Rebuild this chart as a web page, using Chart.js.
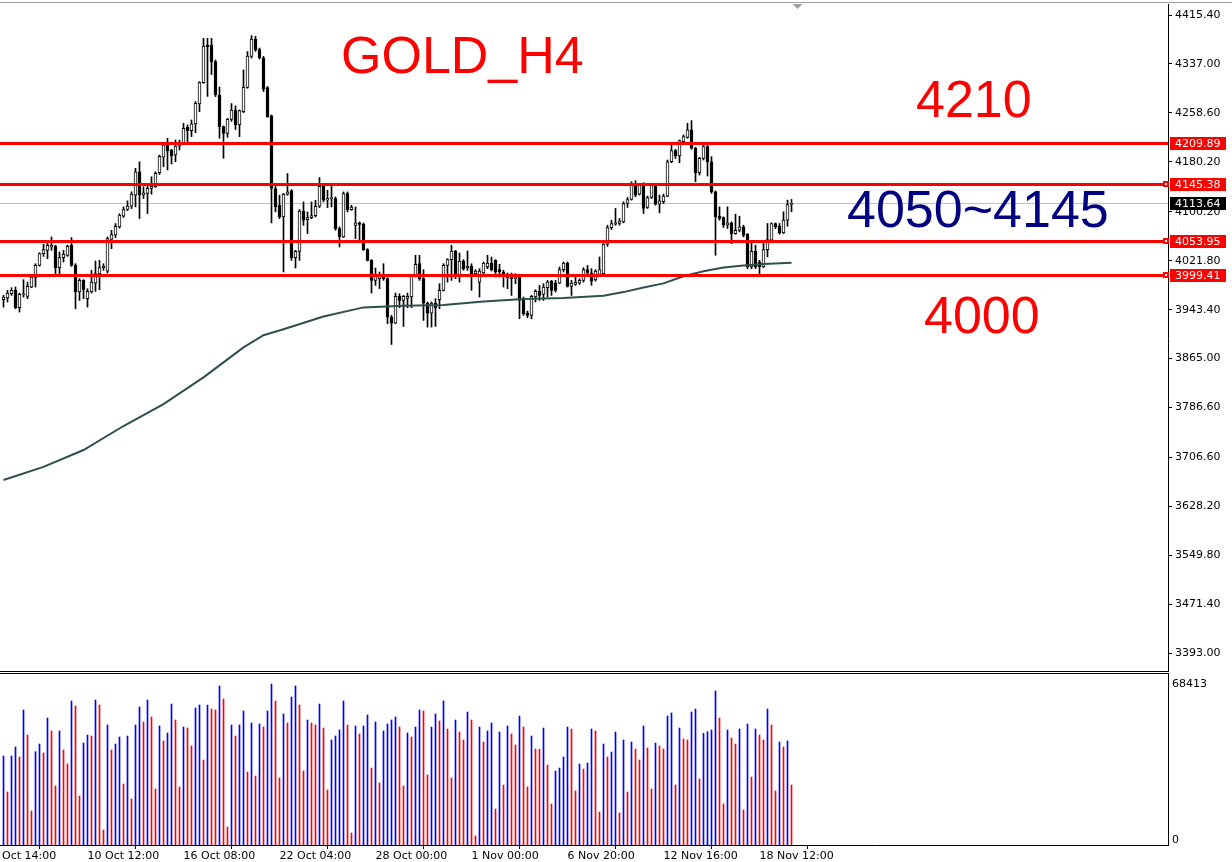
<!DOCTYPE html>
<html>
<head>
<meta charset="utf-8">
<script src="https://cdn.jsdelivr.net/npm/chart.js@4.4.1/dist/chart.umd.min.js"></script>
<style>
  html, body { margin: 0; padding: 0; background: #fff; }
  #wrap { position: relative; width: 1232px; height: 862px; overflow: hidden; background: #fff; }
  #priceChart { position: absolute; left: 0; top: 0; }
  #volChart { position: absolute; left: 0; top: 672px; }
</style>
</head>
<body>
<div id="wrap">
  <canvas id="priceChart" width="1232" height="672"></canvas>
  <canvas id="volChart" width="1232" height="190"></canvas>
</div>
<script>
// ---- values (one entry per bar) ----
const opens = [3959.3, 3962.0, 3968.9, 3974.3, 3946.5, 3967.3, 3964.6, 3979.6, 3994.6, 4014.4,
  4033.1, 4038.4, 4043.8, 4044.9, 4010.6, 4026.7, 4030.4, 4046.5, 4014.4, 3971.6,
  3990.3, 3960.9, 3971.6, 3986.0, 4001.0, 4010.6, 4005.0, 4056.0, 4062.6, 4076.0,
  4093.1, 4103.8, 4109.2, 4126.9, 4164.3, 4126.9, 4129.5, 4137.6, 4140.2, 4163.0,
  4187.5, 4207.2, 4199.2, 4191.2, 4205.6, 4209.9, 4235.5, 4230.2, 4240.9, 4272.9,
  4307.1, 4367.4, 4367.4, 4340.7, 4287.3, 4236.6, 4225.9, 4248.3, 4263.3, 4239.3,
  4260.6, 4299.6, 4349.2, 4377.0, 4359.9, 4346.5, 4299.3, 4253.8, 4137.4, 4110.6,
  4091.9, 4128.3, 4133.6, 4026.7, 4036.8, 4101.5, 4087.6, 4090.8, 4094.0, 4109.0,
  4141.1, 4118.6, 4121.3, 4121.3, 4073.2, 4059.8, 4129.3, 4103.7, 4078.5, 4082.3,
  4080.1, 4039.5, 4022.4, 3990.3, 3993.0, 3996.7, 3993.0, 3931.5, 3921.9, 3964.6,
  3958.2, 3961.5, 3963.6, 3996.7, 4017.0, 3993.0, 3953.9, 3937.9, 3953.9, 3959.3,
  3974.3, 4014.4, 4023.5, 4037.4, 3995.7, 4021.3, 4010.6, 4012.8, 4001.0, 3987.6,
  4002.1, 4011.7, 4018.1, 4022.4, 4007.4, 4003.7, 3996.7, 3994.6, 3993.0, 3995.7,
  3958.2, 3937.9, 3934.2, 3963.6, 3972.7, 3967.9, 3978.5, 3989.2, 3986.0, 3986.0,
  4007.4, 4018.1, 3980.7, 3983.9, 3986.0, 3990.3, 4007.4, 4002.1, 3991.0, 4000.0,
  4001.0, 4048.2, 4074.9, 4080.3, 4081.4, 4084.0, 4113.5, 4119.9, 4144.6, 4128.5,
  4144.6, 4107.1, 4123.1, 4143.0, 4112.4, 4116.2, 4125.3, 4180.4, 4198.1, 4189.6,
  4212.6, 4219.5, 4231.3, 4201.9, 4162.8, 4185.8, 4204.5, 4180.4, 4132.2, 4093.1,
  4091.0, 4078.7, 4082.4, 4065.3, 4070.6, 4076.0, 4064.2, 4011.7, 4036.9, 4019.8,
  4011.7, 4039.6, 4054.6, 4081.4, 4077.1, 4066.4, 4086.7, 4111.9];

const highs = [3966.2, 3974.3, 3978.5, 3979.6, 3970.0, 3991.4, 3987.6, 4000.0, 4017.0, 4034.5,
  4048.1, 4051.8, 4059.8, 4046.5, 4035.8, 4038.4, 4046.5, 4058.8, 4017.0, 3993.0,
  3991.4, 3976.9, 4006.4, 4021.3, 4022.4, 4017.0, 4059.8, 4070.5, 4081.3, 4097.0,
  4108.1, 4117.7, 4132.2, 4169.7, 4180.4, 4140.2, 4142.9, 4156.3, 4164.3, 4191.0,
  4208.8, 4217.9, 4200.3, 4215.2, 4215.2, 4241.9, 4239.3, 4247.3, 4276.7, 4308.7,
  4378.1, 4378.1, 4378.1, 4343.4, 4300.0, 4237.7, 4249.9, 4273.5, 4269.7, 4263.3,
  4327.4, 4356.8, 4382.4, 4381.3, 4362.5, 4349.2, 4300.9, 4255.4, 4144.0, 4126.7,
  4129.3, 4161.4, 4135.8, 4038.4, 4103.7, 4116.0, 4099.9, 4116.0, 4118.6, 4155.0,
  4145.4, 4134.7, 4142.7, 4124.0, 4075.9, 4132.0, 4132.0, 4110.6, 4107.9, 4083.9,
  4082.3, 4041.1, 4023.5, 4010.1, 4003.7, 4017.0, 3994.6, 3934.2, 3970.0, 3968.9,
  3966.2, 3970.0, 3998.3, 4030.4, 4030.4, 4007.4, 3955.6, 3955.6, 3960.9, 3985.0,
  4017.0, 4025.1, 4046.5, 4038.4, 4034.2, 4023.5, 4037.4, 4017.0, 4007.4, 4009.0,
  4019.7, 4030.4, 4027.7, 4023.5, 4016.0, 4006.4, 4002.1, 4002.1, 4001.0, 3996.7,
  3963.6, 3941.1, 3966.2, 3975.3, 3982.3, 3985.0, 3990.3, 3990.3, 3990.3, 4011.7,
  4019.7, 4019.7, 3990.3, 3998.3, 3993.0, 4010.6, 4014.4, 4009.0, 4007.4, 4027.8,
  4049.2, 4078.7, 4086.7, 4105.5, 4089.4, 4116.2, 4123.1, 4148.3, 4149.9, 4145.6,
  4146.7, 4125.3, 4144.6, 4145.6, 4126.9, 4128.5, 4183.1, 4207.2, 4200.3, 4215.3,
  4223.3, 4242.0, 4246.3, 4203.5, 4187.4, 4207.2, 4207.2, 4188.5, 4133.8, 4108.1,
  4092.1, 4108.1, 4084.0, 4096.4, 4093.1, 4078.7, 4065.3, 4051.9, 4046.5, 4022.4,
  4051.9, 4081.4, 4082.4, 4082.4, 4081.4, 4100.1, 4118.8, 4119.9];

const lows = [3947.5, 3955.6, 3966.2, 3944.9, 3939.5, 3963.6, 3960.9, 3978.5, 3979.6, 4013.0,
  4028.8, 4025.1, 4038.4, 4001.0, 4001.0, 4019.7, 4028.8, 4012.8, 3944.9, 3958.2,
  3960.9, 3947.5, 3970.0, 3972.7, 3975.3, 4006.4, 4002.1, 4041.1, 4058.8, 4074.0,
  4091.0, 4102.0, 4105.4, 4108.1, 4089.4, 4121.5, 4097.4, 4128.4, 4139.2, 4160.0,
  4172.5, 4167.2, 4176.8, 4180.5, 4199.2, 4208.8, 4208.8, 4220.6, 4227.0, 4260.6,
  4306.0, 4285.0, 4320.0, 4284.7, 4218.0, 4185.9, 4219.5, 4245.0, 4232.0, 4220.6,
  4259.0, 4298.0, 4346.5, 4357.2, 4344.9, 4292.9, 4251.7, 4082.4, 4100.0, 4089.2,
  4003.7, 4126.7, 4022.4, 4010.1, 4022.4, 4078.5, 4065.2, 4089.2, 4091.9, 4106.9,
  4116.0, 4106.9, 4108.0, 4070.5, 4043.8, 4059.0, 4099.9, 4102.6, 4057.1, 4054.5,
  4038.4, 4021.3, 3970.0, 3982.3, 3977.0, 3990.3, 3920.8, 3887.6, 3920.8, 3946.5,
  3916.5, 3946.5, 3946.5, 3995.7, 3990.3, 3926.1, 3915.4, 3915.4, 3916.5, 3944.9,
  3973.2, 3987.6, 3990.3, 3993.0, 3987.6, 4006.4, 4006.4, 3974.3, 3998.3, 3963.6,
  4001.0, 4009.0, 4005.3, 3995.7, 3995.7, 3979.6, 3977.0, 3966.2, 3985.0, 3928.8,
  3934.2, 3930.4, 3928.8, 3955.6, 3958.2, 3958.2, 3963.6, 3966.2, 3971.6, 3985.0,
  4003.7, 3979.6, 3966.2, 3982.3, 3983.9, 3987.6, 3996.7, 3982.3, 3989.0, 3998.4,
  4000.0, 4044.9, 4071.7, 4078.7, 4078.7, 4082.4, 4107.1, 4118.8, 4124.2, 4126.9,
  4097.4, 4105.5, 4121.5, 4110.8, 4098.5, 4113.5, 4124.2, 4178.8, 4185.8, 4178.8,
  4209.9, 4217.9, 4200.3, 4148.3, 4159.0, 4183.1, 4157.4, 4129.6, 4030.5, 4086.7,
  4075.0, 4073.3, 4049.2, 4064.2, 4068.0, 4059.9, 4009.0, 4009.0, 4009.0, 4001.0,
  4010.6, 4027.8, 4051.9, 4073.3, 4064.2, 4065.3, 4077.1, 4100.1];

const closes = [3963.6, 3970.0, 3974.3, 3946.5, 3967.9, 3967.9, 3980.7, 3995.7, 4014.4, 4033.1,
  4039.5, 4046.5, 4046.5, 4010.6, 4026.7, 4032.0, 4044.9, 4014.4, 3971.6, 3990.3,
  3975.3, 3972.7, 3987.6, 4001.0, 4010.6, 4012.8, 4057.1, 4063.5, 4077.0, 4094.7,
  4103.8, 4109.2, 4128.4, 4164.3, 4126.9, 4130.6, 4137.6, 4141.3, 4161.7, 4189.0,
  4207.2, 4198.2, 4189.6, 4205.6, 4209.9, 4233.9, 4230.2, 4240.9, 4274.0, 4307.1,
  4365.8, 4364.8, 4340.7, 4287.3, 4236.6, 4225.9, 4248.3, 4263.3, 4239.3, 4262.2,
  4299.6, 4349.8, 4377.0, 4359.9, 4346.5, 4296.7, 4252.7, 4137.6, 4107.9, 4091.9,
  4128.3, 4132.0, 4026.7, 4036.8, 4101.5, 4086.6, 4090.8, 4094.0, 4109.0, 4141.1,
  4118.6, 4121.3, 4121.5, 4073.2, 4059.8, 4129.3, 4103.7, 4107.9, 4082.3, 4080.1,
  4039.5, 4022.4, 3990.3, 3996.7, 3996.7, 3993.0, 3931.5, 3921.9, 3964.7, 3958.2,
  3964.6, 3964.6, 3996.7, 4016.0, 3993.0, 3953.9, 3937.9, 3953.9, 3946.5, 3974.3,
  4014.4, 4023.5, 4037.4, 3995.7, 4021.3, 4009.0, 4012.8, 4001.0, 4005.3, 4005.3,
  4018.1, 4018.1, 4007.4, 4003.7, 4003.7, 3998.3, 3994.6, 3993.0, 3994.6, 3958.2,
  3936.8, 3934.2, 3964.6, 3972.7, 3966.2, 3979.6, 3987.6, 3974.3, 3974.3, 4007.4,
  4018.1, 3980.7, 3986.0, 3987.6, 3990.3, 4007.4, 4002.1, 3989.2, 4005.3, 4007.4,
  4048.2, 4074.9, 4081.4, 4082.4, 4085.6, 4113.5, 4119.9, 4144.6, 4126.9, 4143.0,
  4105.5, 4123.1, 4143.0, 4112.4, 4117.8, 4125.3, 4180.4, 4198.1, 4189.6, 4214.2,
  4220.6, 4231.3, 4201.9, 4162.8, 4185.8, 4204.5, 4180.4, 4132.2, 4092.1, 4089.4,
  4078.7, 4082.4, 4065.3, 4070.6, 4076.0, 4062.6, 4011.7, 4036.9, 4011.7, 4011.7,
  4039.6, 4055.6, 4081.4, 4076.0, 4066.4, 4086.7, 4111.9, 4113.64];

const volumes = [37826, 22525, 37850, 41651, 37401, 57376, 46751, 14450, 39668, 42926,
  39101, 53976, 48451, 25076, 48460, 40376, 34426, 61201, 59076, 20825,
  43351, 46751, 46326, 61626, 59501, 6375, 51001, 40376, 42926, 45901,
  25926, 46326, 19550, 51001, 58651, 52276, 61626, 54401, 23800, 50576,
  44201, 47601, 59926, 53126, 24650, 50151, 49726, 42076, 58226, 59501,
  36126, 59480, 57801, 57376, 67576, 62051, 7650, 51001, 46326, 51010,
  56951, 31026, 51851, 29326, 51426, 50151, 56951, 68413, 61201, 28476,
  55676, 51851, 62901, 67576, 59501, 31451, 53126, 51851, 51001, 59926,
  49726, 23375, 44626, 46326, 48876, 61201, 51001, 5100, 50576, 47176,
  50590, 55251, 32726, 52276, 26351, 48451, 51426, 53126, 54401, 50151,
  25076, 47601, 45901, 50151, 57376, 56951, 29751, 50151, 55676, 52701,
  61201, 49301, 28476, 53126, 48026, 44626, 56526, 53126, 3825, 50151,
  43776, 48451, 51851, 15300, 48026, 25500, 50576, 47176, 42501, 54826,
  50151, 24650, 46326, 40801, 40659, 49726, 34001, 17425, 31451, 32726,
  37401, 50151, 49301, 22950, 34426, 32301, 34851, 49301, 48451, 14025,
  42926, 37401, 39526, 48026, 13600, 44626, 22525, 43776, 40801, 36126,
  50576, 41226, 23800, 43351, 42076, 40801, 54826, 56101, 25500, 49726,
  45051, 44626, 56526, 57801, 28051, 47459, 48168, 48876, 65451, 53976,
  17425, 48876, 45476, 42926, 49301, 14875, 51426, 28901, 49301, 46751,
  44626, 57801, 51001, 22950, 43776, 41651, 44201, 25500];

// moving average, read at a few bars
const maIndex = [0, 10, 20, 30, 40, 50, 55, 60, 65, 70, 80, 90, 100, 110, 120, 130, 140, 150, 155, 160, 165, 170, 175, 180, 185, 190, 197];
const maValues = [3670.5, 3691.5, 3718.5, 3757.0, 3792.0, 3835.0, 3859.0, 3883.0, 3902.5, 3912.0, 3932.5, 3947.0, 3949.5, 3951.0, 3956.5, 3960.5, 3962.0, 3965.5, 3971.5, 3979.0, 3985.5, 3997.0, 4005.0, 4011.0, 4014.0, 4016.5, 4018.5];

const priceTicks = [3393.00, 3471.40, 3549.80, 3628.20, 3706.60, 3786.60, 3865.00, 3943.40, 4021.80, 4100.20, 4180.20, 4258.60, 4337.00, 4415.40];
const levelPrices = [4209.89, 4145.38, 4053.95, 3999.41];
const levelMarked = [false, true, true, true];
const xTickIndex = [-3, 21, 45, 69, 93, 117, 141, 165, 189];
const xTickLabels = ["6 Oct 14:00", "10 Oct 12:00", "16 Oct 08:00", "22 Oct 04:00", "28 Oct 00:00", "1 Nov 00:00", "6 Nov 20:00", "12 Nov 16:00", "18 Nov 12:00"];
const volumeTopLabel = 68413;

// view window (bars are 4px apart, empty space on the right)
const xMin = -0.875, xMax = 291.125;
const priceMin = 3362.9, priceMax = 4433.05;
const volScaleMax = 73100;

Chart.defaults.font.family = "'DejaVu Sans', Verdana, sans-serif";
Chart.defaults.font.size = 11;
Chart.defaults.color = "#000";

const lastClose = closes[closes.length - 1];
const bigFont = '52px "Liberation Sans", Arial, sans-serif';

function priceTag(ctx, text, py, bg, x) {
    const yy = Math.round(py);
    ctx.fillStyle = bg;
    ctx.fillRect(x, yy - 6, 56, 13);
    ctx.fillStyle = "#FFFFFF";
    ctx.font = "11px 'DejaVu Sans'";
    ctx.textAlign = "left";
    ctx.textBaseline = "middle";
    ctx.fillText(text, x + 5, yy + 1);
}

// no extra room for half tick labels, the window edges are fixed
function noLabelPadding(s) {
    s.paddingTop = 0;
    s.paddingBottom = 0;
    s.paddingLeft = 0;
    s.paddingRight = 0;
}

const mainOverlay = {
    id: "mainOverlay",
    beforeDatasetsDraw(chart) {
        const { ctx, chartArea: a, scales: { y } } = chart;
        const by = Math.round(y.getPixelForValue(lastClose)) + 0.5;
        ctx.save();
        ctx.strokeStyle = "#C0C0C0";
        ctx.lineWidth = 1;
        ctx.beginPath();
        ctx.moveTo(a.left, by);
        ctx.lineTo(a.right, by);
        ctx.stroke();
        ctx.restore();
    },
    afterDatasetsDraw(chart) {
        const { ctx, chartArea: a, scales: { y } } = chart;
        ctx.save();
        ctx.strokeStyle = "#FF0000";
        ctx.lineWidth = 3;
        levelPrices.forEach(p => {
            const py = Math.round(y.getPixelForValue(p)) + 0.5;
            ctx.beginPath();
            ctx.moveTo(a.left, py);
            ctx.lineTo(a.right, py);
            ctx.stroke();
        });
        ctx.restore();
    },
    afterDraw(chart) {
        const { ctx, chartArea: a, scales: { x, y } } = chart;
        ctx.save();

        // frame
        ctx.fillStyle = "#A0A0A0";
        ctx.fillRect(0, 2, chart.width, 1);
        ctx.fillStyle = "#000";
        ctx.fillRect(0, Math.round(a.bottom) - 1, a.right + 1, 1);

        // chart shift marker
        const sx = x.getPixelForValue(closes.length + 0.5);
        ctx.fillStyle = "#A0A0A0";
        ctx.beginPath();
        ctx.moveTo(sx - 5, 4);
        ctx.lineTo(sx + 5, 4);
        ctx.lineTo(sx, 9);
        ctx.closePath();
        ctx.fill();

        // level tags on the price axis
        levelPrices.forEach((p, k) => {
            const py = y.getPixelForValue(p);
            priceTag(ctx, p.toFixed(2), py, "#FF0000", a.right + 2);
            if (levelMarked[k]) {
                const yy = Math.round(py);
                ctx.fillStyle = "#FF0000";
                ctx.fillRect(a.right - 5, yy - 3, 6, 6);
                ctx.fillStyle = "#FFFFFF";
                ctx.fillRect(a.right - 3, yy - 1, 2, 2);
            }
        });
        priceTag(ctx, lastClose.toFixed(2), y.getPixelForValue(lastClose), "#000000", a.right + 2);

        // text objects
        ctx.font = bigFont;
        ctx.textAlign = "left";
        ctx.textBaseline = "alphabetic";
        ctx.fillStyle = "#FF0000";
        ctx.fillText("GOLD_H4", 341, 73);
        ctx.fillText("4210", 916, 117);
        ctx.fillText("4000", 924, 333);
        ctx.fillStyle = "#000080";
        ctx.fillText("4050~4145", 847, 227);
        ctx.restore();
    }
};

const bodyData = opens.map((o, i) => ({ x: i, y: [o, closes[i]] }));
const wickData = lows.map((l, i) => ({ x: i, y: [l, highs[i]] }));
const maData = maIndex.map((ix, k) => ({ x: ix, y: maValues[k] }));

new Chart(document.getElementById("priceChart").getContext("2d"), {
    type: "bar",
    data: {
        datasets: [
            {
                type: "line",
                label: "MA",
                data: maData,
                borderColor: "#2F4F4F",
                borderWidth: 2,
                pointRadius: 0,
                tension: 0,
                order: -1
            },
            {
                label: "body",
                data: bodyData,
                barThickness: 3,
                borderWidth: 1,
                borderColor: "#000000",
                borderSkipped: false,
                minBarLength: 1,
                grouped: false,
                backgroundColor: ctx => (closes[ctx.dataIndex] >= opens[ctx.dataIndex] ? "#FFFFFF" : "#000000"),
                order: 0
            },
            {
                label: "wick",
                data: wickData,
                barThickness: 1,
                borderWidth: 0,
                grouped: false,
                backgroundColor: "#000000",
                order: 1
            }
        ]
    },
    options: {
        responsive: false,
        animation: false,
        devicePixelRatio: 1,
        events: [],
        layout: { padding: { top: 4, bottom: 0, left: 0, right: 0 } },
        plugins: { legend: { display: false }, tooltip: { enabled: false } },
        scales: {
            x: {
                type: "linear",
                min: xMin,
                max: xMax,
                offset: false,
                display: false
            },
            y: {
                position: "right",
                min: priceMin,
                max: priceMax,
                grid: { display: true, drawOnChartArea: false, drawTicks: true, tickLength: 4, color: "#000" },
                border: { display: true, color: "#000" },
                ticks: {
                    autoSkip: false,
                    padding: 3,
                    color: "#000",
                    callback: v => Number(v).toFixed(2)
                },
                afterBuildTicks: s => { s.ticks = priceTicks.map(v => ({ value: v })); },
                afterFit: s => { s.width = 64; noLabelPadding(s); }
            }
        }
    },
    plugins: [mainOverlay]
});

// ---- volume window ----
const volColors = volumes.map((v, i) => (i === 0 || v > volumes[i - 1]) ? "#0000FF" : "#FF0000");

const volOverlay = {
    id: "volOverlay",
    afterDraw(chart) {
        const { ctx, chartArea: a, scales: { y } } = chart;
        ctx.save();
        ctx.fillStyle = "#000";
        ctx.fillRect(0, Math.round(a.top), a.right + 1, 1);
        ctx.font = "11px 'DejaVu Sans'";
        ctx.textAlign = "left";
        ctx.textBaseline = "middle";
        ctx.fillText(String(volumeTopLabel), a.right + 4, Math.round(y.getPixelForValue(volumeTopLabel)));
        ctx.fillText("0", a.right + 4, Math.round(y.getPixelForValue(0)) - 5);
        ctx.restore();
    }
};

new Chart(document.getElementById("volChart").getContext("2d"), {
    type: "bar",
    data: {
        datasets: [{
            label: "Volumes",
            data: volumes.map((v, i) => ({ x: i, y: v })),
            barThickness: 1,
            borderWidth: 0,
            grouped: false,
            backgroundColor: volColors
        }]
    },
    options: {
        responsive: false,
        animation: false,
        devicePixelRatio: 1,
        events: [],
        layout: { padding: { top: 1, bottom: 0, left: 0, right: 0 } },
        plugins: { legend: { display: false }, tooltip: { enabled: false } },
        scales: {
            x: {
                type: "linear",
                position: "bottom",
                min: xMin,
                max: xMax,
                offset: false,
                grid: { display: true, drawOnChartArea: false, drawTicks: true, tickLength: 4, color: "#000" },
                border: { display: true, color: "#000", dash: [2, 1] },
                ticks: {
                    autoSkip: false,
                    maxRotation: 0,
                    align: "start",
                    padding: 1,
                    color: "#000",
                    callback: (v, idx) => xTickLabels[idx]
                },
                afterBuildTicks: s => { s.ticks = xTickIndex.map(v => ({ value: v })); },
                afterFit: s => { s.height = 17; noLabelPadding(s); }
            },
            y: {
                position: "right",
                min: 0,
                max: volScaleMax,
                grid: { display: false },
                border: { display: true, color: "#000" },
                ticks: { display: false },
                afterFit: s => { s.width = 64; noLabelPadding(s); }
            }
        }
    },
    plugins: [volOverlay]
});
</script>
</body>
</html>
